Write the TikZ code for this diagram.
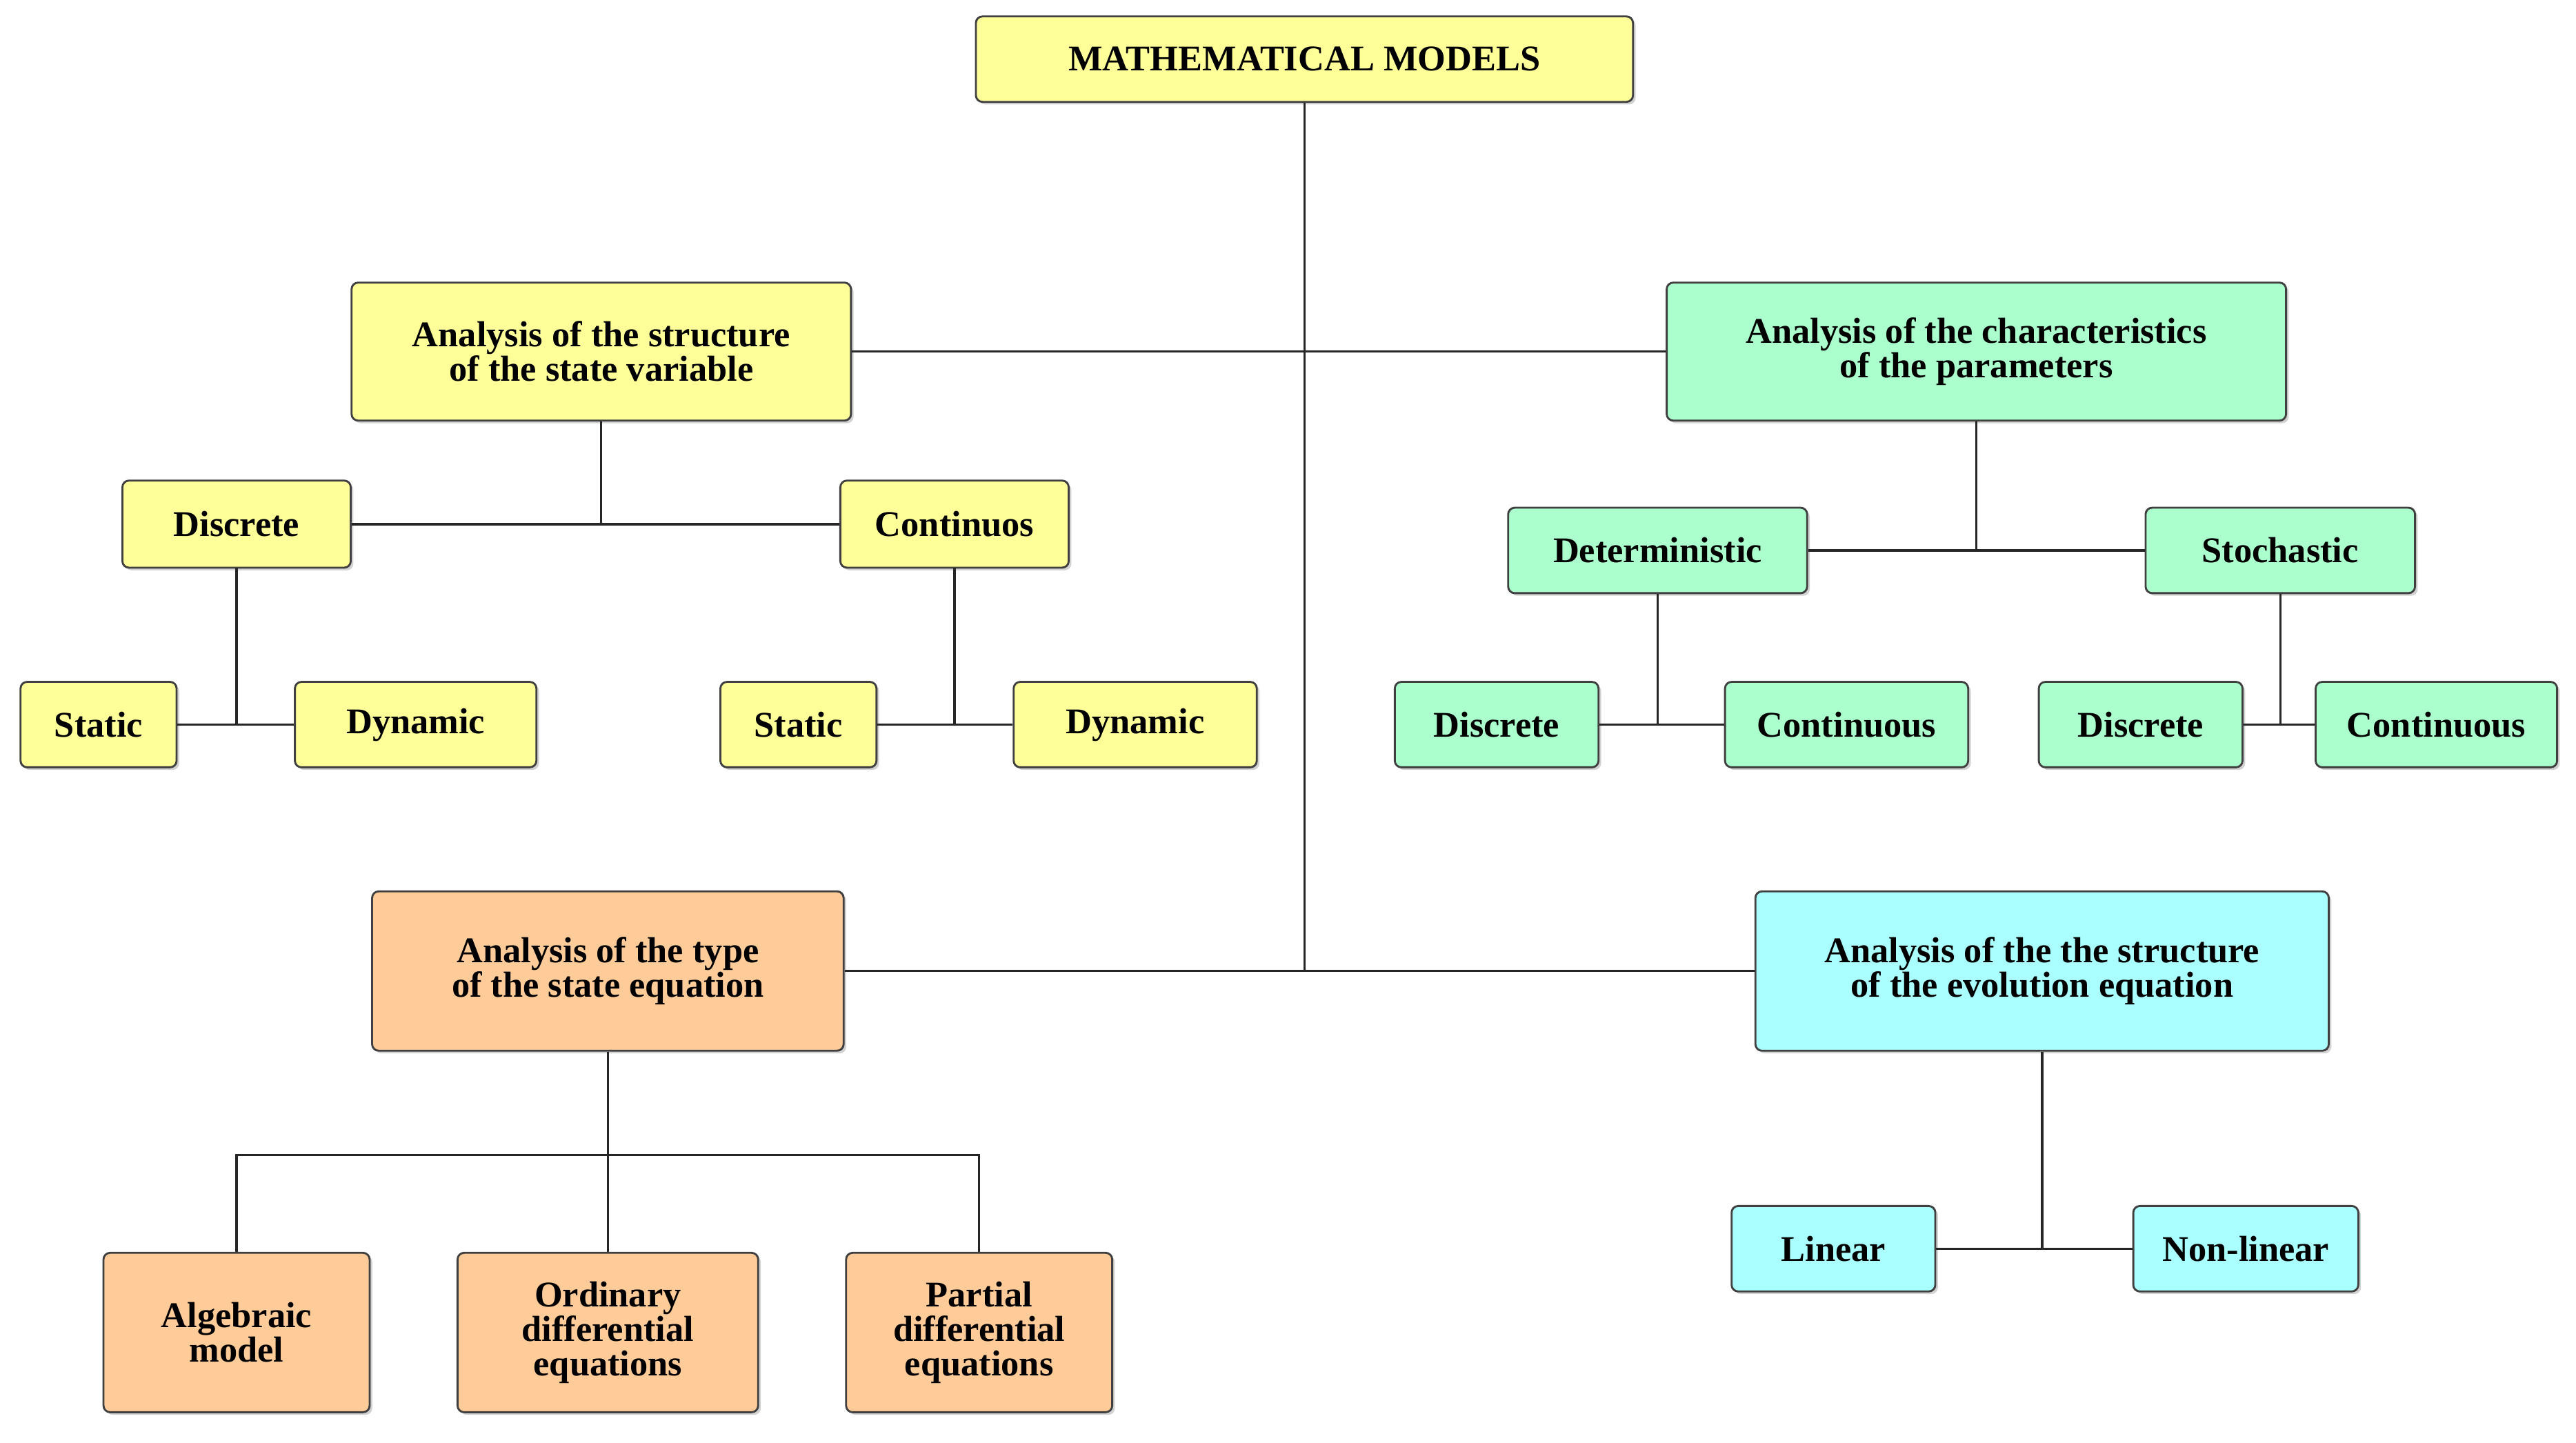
\documentclass[tikz,border=0pt]{standalone}
\usepackage{fontspec}
\setmainfont{Liberation Serif}
\usetikzlibrary{shadows}
\definecolor{cy}{HTML}{FFFF99}
\definecolor{cg}{HTML}{AAFFCC}
\definecolor{co}{HTML}{FFCC99}
\definecolor{cc}{HTML}{AAFFFF}
\begin{document}
\begin{tikzpicture}[x=0.5pt,y=-0.5pt,
  box/.style={draw=black!75,line width=0.6pt,rounded corners=2pt,align=center,
    font=\fontsize{11}{10.5}\selectfont\bfseries,inner sep=1pt,
    drop shadow={shadow xshift=0.8pt,shadow yshift=-0.8pt,fill=black!35}},
  ln/.style={line width=0.7pt,black!85}]
\useasboundingbox (0,0) rectangle (1568,878);
\newcommand\bx[7]{\node[box,fill=#2,minimum width=#5*0.5pt,minimum height=#6*0.5pt] (#1) at (#3,#4) {#7};}
\bx{mm}{cy}{794}{36}{400}{52}{MATHEMATICAL MODELS}
\bx{asv}{cy}{366}{214}{304}{84}{Analysis of the structure\\of the state variable}
\bx{acp}{cg}{1203}{214}{377}{84}{Analysis of the characteristics\\of the parameters}
\bx{dl}{cy}{144}{319}{139}{53}{Discrete}
\bx{cl}{cy}{581}{319}{139}{53}{Continuos}
\bx{s1}{cy}{60}{441}{95}{52}{Static}
\bx{d1}{cy}{253}{441}{147}{52}{Dynamic}
\bx{s2}{cy}{486}{441}{95}{52}{Static}
\bx{d2}{cy}{691}{441}{148}{52}{Dynamic}
\bx{det}{cg}{1009}{335}{182}{52}{Deterministic}
\bx{sto}{cg}{1388}{335}{164}{52}{Stochastic}
\bx{r1}{cg}{911}{441}{124}{52}{Discrete}
\bx{r2}{cg}{1124}{441}{148}{52}{Continuous}
\bx{r3}{cg}{1303}{441}{124}{52}{Discrete}
\bx{r4}{cg}{1483}{441}{147}{52}{Continuous}
\bx{ate}{co}{370}{591}{287}{97}{Analysis of the type\\of the state equation}
\bx{aee}{cc}{1243}{591}{349}{97}{Analysis of the the structure\\of the evolution equation}
\bx{lin}{cc}{1116}{760}{124}{52}{Linear}
\bx{nl}{cc}{1367}{760}{137}{52}{Non-linear}
\bx{alg}{co}{144}{811}{162}{97}{Algebraic\\model}
\bx{ode}{co}{370}{811}{183}{97}{Ordinary\\differential\\equations}
\bx{pde}{co}{596}{811}{162}{97}{Partial\\differential\\equations}
\begin{scope}[on background layer/.try]
\end{scope}
\coordinate (j0) at (794,591);
\draw[ln] (mm.south) -- (j0);
\draw[ln] (asv.east) -- (acp.west);
\draw[ln] (ate.east) -- (aee.west);
\draw[ln] (dl.east) -- (cl.west);
\draw[ln] (asv.south) -- (asv.south |- dl.east);
\draw[ln] (s1.east) -- (d1.west);
\draw[ln] (dl.south) -- (dl.south |- s1.east);
\draw[ln] (s2.east) -- (d2.west);
\draw[ln] (cl.south) -- (cl.south |- s2.east);
\draw[ln] (det.east) -- (sto.west);
\draw[ln] (acp.south) -- (acp.south |- det.east);
\draw[ln] (r1.east) -- (r2.west);
\draw[ln] (det.south) -- (det.south |- r1.east);
\draw[ln] (r3.east) -- (r4.west);
\draw[ln] (sto.south) -- (sto.south |- r3.east);
\draw[ln] (lin.east) -- (nl.west);
\draw[ln] (aee.south) -- (aee.south |- lin.east);
\coordinate (jb) at (370,703);
\draw[ln] (ate.south) -- (ode.north);
\draw[ln] (alg.north) -- (alg.north |- jb) -- (pde.north |- jb) -- (pde.north);
\end{tikzpicture}
\end{document}
